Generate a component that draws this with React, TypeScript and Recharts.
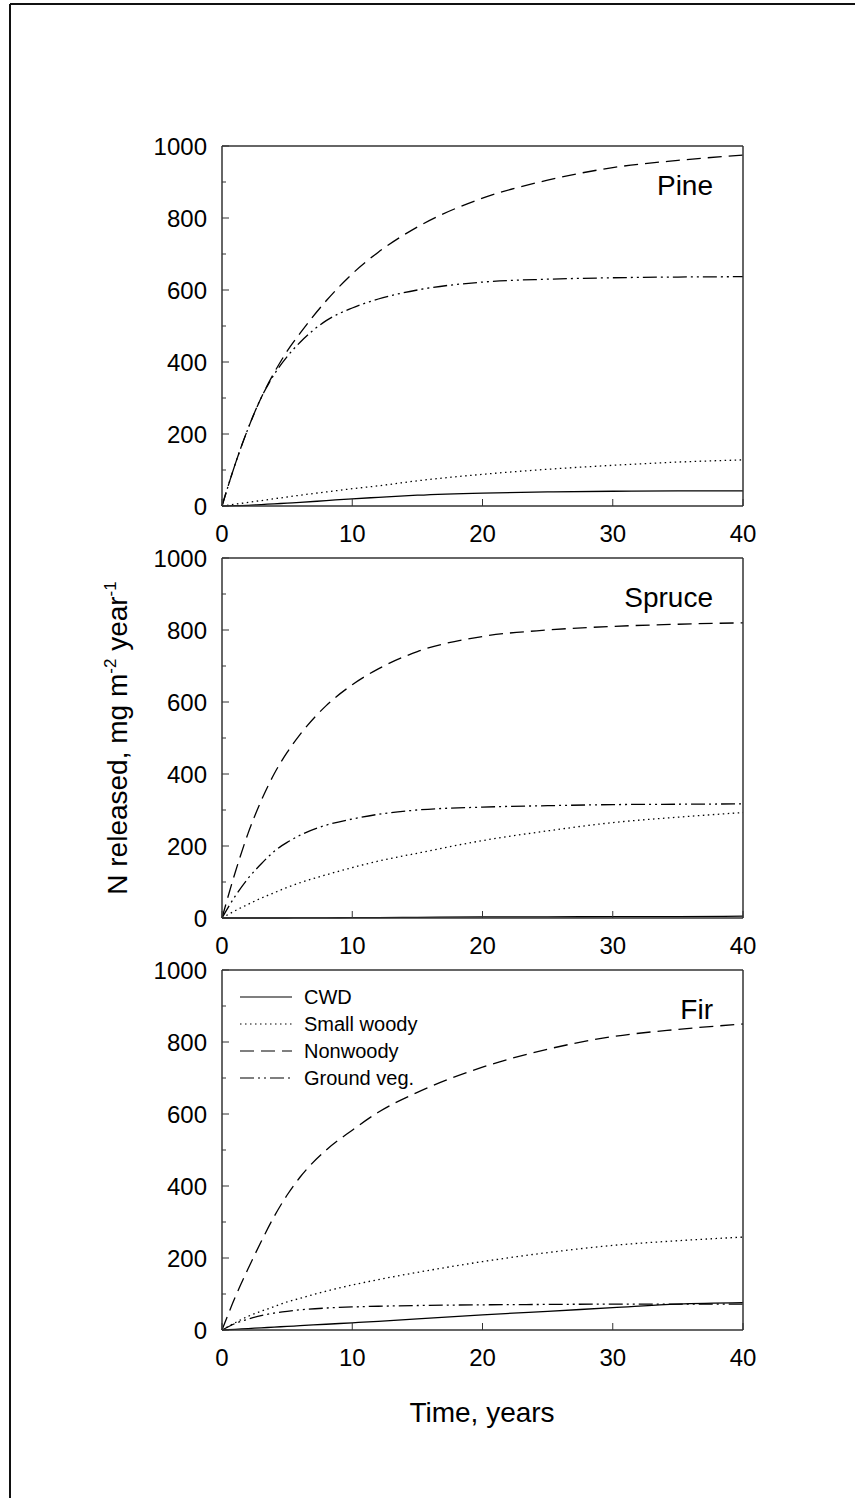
import React from "react";
import { LineChart, Line, XAxis, YAxis } from "recharts";

const FONT = "Arial, 'Liberation Sans', Helvetica, sans-serif";

const TIME = [0, 1, 2, 3, 4, 5, 6, 8, 10, 12, 15, 20, 25, 30, 35, 40];
const X_TICKS = [0, 10, 20, 30, 40];
const Y_TICKS = [0, 100, 200, 300, 400, 500, 600, 700, 800, 900, 1000];
const SERIES_NAMES = ["CWD", "Small woody", "Nonwoody", "Ground veg."];
const PANEL_NAMES = ["Pine", "Spruce", "Fir"];

// Pine
const PINE_CWD = [0, 1, 2, 4, 6, 8, 10, 15, 20, 24, 30, 36, 39, 41, 42, 42];
const PINE_SMALL = [0, 5, 10, 15, 20, 25, 30, 39, 48, 56, 70, 88, 102, 113, 122, 128];
const PINE_NON = [0, 115, 215, 300, 370, 430, 480, 570, 645, 705, 775, 855, 905, 940, 960, 975];
const PINE_GROUND = [0, 115, 215, 300, 365, 415, 455, 515, 550, 575, 600, 622, 630, 634, 636, 637];

// Spruce
const SPRUCE_CWD = [0, 0, 0, 0, 0, 0, 0.5, 0.5, 1, 1, 2, 3, 3, 4, 4, 5];
const SPRUCE_SMALL = [0, 20, 38, 55, 70, 85, 98, 120, 140, 158, 180, 215, 242, 265, 280, 293];
const SPRUCE_NON = [0, 125, 235, 325, 400, 460, 510, 590, 648, 692, 740, 782, 800, 810, 816, 820];
const SPRUCE_GROUND = [0, 60, 110, 150, 185, 210, 230, 258, 275, 288, 300, 308, 312, 315, 316, 317];

// Fir
const FIR_CWD = [0, 2, 4, 6, 8, 10, 12, 16, 20, 24, 31, 42, 52, 62, 72, 76];
const FIR_SMALL = [0, 20, 38, 52, 65, 78, 88, 108, 125, 140, 160, 190, 215, 235, 248, 258];
const FIR_NON = [0, 90, 170, 245, 315, 375, 425, 500, 555, 605, 660, 730, 780, 815, 835, 850];
const FIR_GROUND = [0, 18, 30, 40, 47, 52, 56, 61, 64, 66, 68, 70, 71, 72, 72, 72];

const buildRows = (cwd: number[], small: number[], non: number[], ground: number[]) =>
  TIME.map((t, i) => ({ t, cwd: cwd[i], small: small[i], non: non[i], ground: ground[i] }));

const PANELS = [
  buildRows(PINE_CWD, PINE_SMALL, PINE_NON, PINE_GROUND),
  buildRows(SPRUCE_CWD, SPRUCE_SMALL, SPRUCE_NON, SPRUCE_GROUND),
  buildRows(FIR_CWD, FIR_SMALL, FIR_NON, FIR_GROUND),
];

const SERIES_STYLE = [
  { key: "cwd", dash: undefined as string | undefined },
  { key: "small", dash: "1.5 3.5" },
  { key: "non", dash: "14 7" },
  { key: "ground", dash: "14 4 2 4 2 4" },
];

const PLOT_LEFT = 222;
const PLOT_RIGHT = 743;
const PLOT_H = 360;
const PANEL_TOPS = [146, 558, 970];
const TOP_AXIS_H = 20;
const BOTTOM_AXIS_H = 30;
const LEFT_AXIS_W = 60;
const RIGHT_AXIS_W = 20;
const M_BOTTOM = 30;
const AXIS_COLOR = "#333";

const LeftTick = (p: any) => {
  const { x, y, payload } = p;
  const v = payload.value;
  const major = v % 200 === 0;
  return (
    <g>
      <line x1={x} x2={x + (major ? 7 : 4)} y1={y} y2={y} stroke={AXIS_COLOR} strokeWidth={1} />
      {major && (
        <text x={x - 15} y={y} dy="0.36em" textAnchor="end" fontSize={24} fontFamily={FONT} fill="#000">
          {v}
        </text>
      )}
    </g>
  );
};

const RightTick = (p: any) => {
  const { x, y, payload } = p;
  const v = payload.value;
  const major = v % 200 === 0;
  return <line x1={x} x2={x - (major ? 7 : 4)} y1={y} y2={y} stroke={AXIS_COLOR} strokeWidth={1} />;
};

const BottomTick = (p: any) => {
  const { x, y, payload } = p;
  return (
    <g>
      <line x1={x} x2={x} y1={y} y2={y - 7} stroke={AXIS_COLOR} strokeWidth={1} />
      <text x={x} y={y + 36} textAnchor="middle" fontSize={24} fontFamily={FONT} fill="#000">
        {payload.value}
      </text>
    </g>
  );
};

function Panel({ idx }: { idx: number }) {
  const top = PANEL_TOPS[idx] - TOP_AXIS_H;
  return (
    <div style={{ position: "absolute", left: 0, top }}>
      <LineChart
        width={855}
        height={TOP_AXIS_H + PLOT_H + BOTTOM_AXIS_H + M_BOTTOM}
        data={PANELS[idx]}
        margin={{
          top: 0,
          left: PLOT_LEFT - LEFT_AXIS_W,
          right: 855 - PLOT_RIGHT - RIGHT_AXIS_W,
          bottom: M_BOTTOM,
        }}
        style={{ overflow: "visible" }}
      >
        <XAxis
          dataKey="t"
          type="number"
          domain={[0, 40]}
          ticks={X_TICKS}
          interval={0}
          height={BOTTOM_AXIS_H}
          tickSize={0}
          tickMargin={0}
          tickLine={false}
          axisLine={{ stroke: AXIS_COLOR, strokeWidth: 1.5 }}
          tick={BottomTick}
        />
        <XAxis
          xAxisId="top"
          orientation="top"
          dataKey="t"
          type="number"
          domain={[0, 40]}
          height={TOP_AXIS_H}
          tick={false}
          tickLine={false}
          axisLine={{ stroke: AXIS_COLOR, strokeWidth: 1.5 }}
        />
        <YAxis
          type="number"
          domain={[0, 1000]}
          ticks={Y_TICKS}
          interval={0}
          width={LEFT_AXIS_W}
          tickSize={0}
          tickMargin={0}
          tickLine={false}
          axisLine={{ stroke: AXIS_COLOR, strokeWidth: 1.5 }}
          tick={LeftTick}
        />
        <YAxis
          yAxisId="right"
          orientation="right"
          type="number"
          domain={[0, 1000]}
          ticks={Y_TICKS}
          interval={0}
          width={RIGHT_AXIS_W}
          tickSize={0}
          tickMargin={0}
          tickLine={false}
          axisLine={{ stroke: AXIS_COLOR, strokeWidth: 1.5 }}
          tick={RightTick}
        />
        {SERIES_STYLE.map((s) => (
          <Line
            key={s.key}
            dataKey={s.key}
            type="monotone"
            stroke="#000"
            strokeWidth={1.3}
            strokeDasharray={s.dash}
            dot={false}
            activeDot={false}
            isAnimationActive={false}
          />
        ))}
      </LineChart>
    </div>
  );
}

export default function App() {
  const legendTop = 997;
  const legendStep = 27;
  return (
    <div
      style={{
        position: "absolute",
        left: 0,
        top: 0,
        width: 855,
        height: 1498,
        background: "#fff",
        fontFamily: FONT,
        overflow: "hidden",
      }}
    >
      {[0, 1, 2].map((i) => (
        <Panel key={i} idx={i} />
      ))}
      <svg
        width={855}
        height={1498}
        style={{ position: "absolute", left: 0, top: 0, pointerEvents: "none" }}
      >
        <line x1={10} y1={4} x2={855} y2={4} stroke="#111" strokeWidth={2} />
        <line x1={10} y1={4} x2={10} y2={1498} stroke="#111" strokeWidth={2} />
        {PANEL_NAMES.map((n, i) => (
          <text
            key={n}
            x={713}
            y={PANEL_TOPS[i] + 49}
            textAnchor="end"
            fontSize={28}
            fontFamily={FONT}
            fill="#000"
          >
            {n}
          </text>
        ))}
        <text
          transform="translate(127,738) rotate(-90)"
          textAnchor="middle"
          fontSize={28}
          fontFamily={FONT}
          fill="#000"
        >
          N released, mg m
          <tspan fontSize={17} dy={-11}>-2</tspan>
          <tspan dy={11}> year</tspan>
          <tspan fontSize={17} dy={-11}>-1</tspan>
        </text>
        <text x={482} y={1422} textAnchor="middle" fontSize={28} fontFamily={FONT} fill="#000">
          Time, years
        </text>
        {SERIES_NAMES.map((name, i) => {
          const y = legendTop + i * legendStep;
          return (
            <g key={name}>
              <line
                x1={240}
                x2={292}
                y1={y}
                y2={y}
                stroke="#000"
                strokeWidth={1.2}
                strokeDasharray={SERIES_STYLE[i].dash}
              />
              <text x={304} y={y} dy="0.36em" fontSize={20} fontFamily={FONT} fill="#000">
                {name}
              </text>
            </g>
          );
        })}
      </svg>
    </div>
  );
}
